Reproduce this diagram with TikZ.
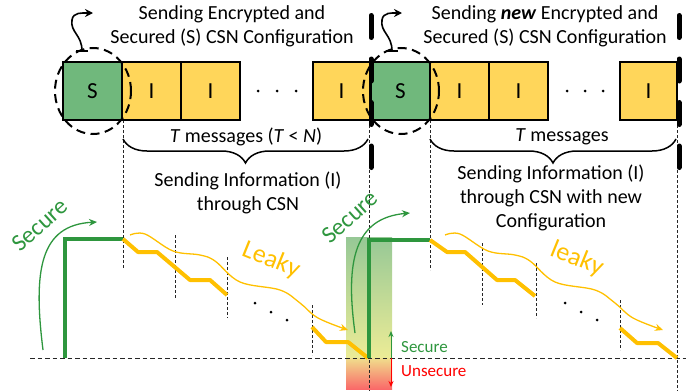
\documentclass[tikz,border=0pt]{standalone}
\usepackage{fontspec}
\setmainfont{Carlito}
\usetikzlibrary{arrows.meta,decorations.pathreplacing}
\definecolor{boxgreen}{RGB}{112,184,124}
\definecolor{boxyellow}{RGB}{255,214,90}
\definecolor{sgreen}{RGB}{46,150,62}
\definecolor{lyellow}{RGB}{255,192,0}
\definecolor{uired}{RGB}{255,0,0}
\definecolor{gtop}{RGB}{150,200,150}
\definecolor{gmid}{RGB}{236,236,150}
\definecolor{gmid2}{RGB}{240,222,140}
\definecolor{gbot}{RGB}{250,105,105}
\begin{document}
\begin{tikzpicture}[x=1pt,y=-1pt,
  box/.style={draw=black, line width=1.2pt, minimum height=58pt, inner sep=0pt, font=\fontsize{23}{26}\selectfont},
  txt/.style={font=\fontsize{20}{24}\selectfont, align=center, inner sep=0pt},
  thindash/.style={black!85, line width=0.8pt, dash pattern=on 3pt off 2pt},
  basedash/.style={black!85, line width=1pt, dash pattern=on 4.5pt off 3pt},
  bolddash/.style={line width=5pt, line cap=round, dash pattern=on 22pt off 21.5pt},
  ell/.style={draw, line width=2pt, dash pattern=on 9pt off 5.5pt},
  greenstep/.style={sgreen, line width=4pt},
  yellowstep/.style={lyellow, line width=4pt, line join=round},
  leakyarrow/.style={lyellow, line width=1.3pt, -{Stealth[length=8pt,width=7pt]}},
  securearrow/.style={sgreen, line width=1.3pt, -{Stealth[length=8pt,width=7pt]}},
  curlarrow/.style={line width=1.6pt, {Bar[width=12pt]}-{Stealth[length=8pt,width=8pt]}},
  bracestyle/.style={line width=1.5pt, decorate, decoration={brace, mirror, amplitude=24pt}},
  dotmark/.style={fill=black}
]
\useasboundingbox (0,0) rectangle (686,391);

% gradient band
\shade[top color=gtop, bottom color=gmid] (346,237) rectangle (392,358);
\shade[top color=gmid2, bottom color=gbot] (346,358) rectangle (392,389);

% dashed guide lines
\draw[basedash] (30,358) -- (686,358);
\draw[thindash] (123,120) -- (123,268);
\draw[thindash] (175,235) -- (175,298);
\draw[thindash] (227,257) -- (227,318);
\draw[thindash] (312,305) -- (312,355);
\draw[thindash] (369,120) -- (369,391);
\draw[thindash] (430,120) -- (430,270);
\draw[thindash] (482,243) -- (482,305);
\draw[thindash] (536,263) -- (536,318);
\draw[thindash] (620,300) -- (620,350);
\draw[thindash] (677,120) -- (677,391);

% boxes, first configuration
\node[box, fill=boxgreen, minimum width=59pt] (s1) at (92.5,91) {S};
\node[box, fill=boxyellow, minimum width=59pt] (i1a) at (151.5,91) {I};
\node[box, fill=boxyellow, minimum width=59pt] (i1b) at (210.5,91) {I};
\node[box, fill=boxyellow, minimum width=57pt] (i1c) at (341.5,91) {I};
\fill[dotmark] (258,91) circle (1.5pt) (277,91) circle (1.5pt) (296,91) circle (1.5pt);

% boxes, second configuration
\node[box, fill=boxgreen, minimum width=59pt] (s2) at (400.5,91) {S};
\node[box, fill=boxyellow, minimum width=59pt] (i2a) at (459.5,91) {I};
\node[box, fill=boxyellow, minimum width=59pt] (i2b) at (518.5,91) {I};
\node[box, fill=boxyellow, minimum width=57pt] (i2c) at (648.5,91) {I};
\fill[dotmark] (567,91) circle (1.5pt) (585,91) circle (1.5pt) (603,91) circle (1.5pt);

% dashed ellipses and curled arrows
\draw[ell] (93,91) ellipse [x radius=38pt, y radius=43pt];
\draw[ell] (401,91) ellipse [x radius=38pt, y radius=43pt];
\draw[curlarrow] (82,52) .. controls (82,35) and (70,32) .. (72,20) .. controls (73,12) and (82,13) .. (93,13);
\draw[curlarrow] (392,52) .. controls (392,35) and (380,32) .. (382,20) .. controls (383,12) and (392,13) .. (402,13);

% bold separators
\draw[bolddash] (371,15.5) -- (371,167.5);
\draw[bolddash] (679,15.5) -- (679,167.5);

% headings
\node[txt] (h1) at (232,26) {Sending Encrypted and\\Secured (S) CSN Configuration};
\node[txt] (h2) at (545,26) {Sending \textbf{\textit{new}} Encrypted and\\Secured (S) CSN Configuration};

% braces
\draw[bracestyle] (123,139) -- (368,139);
\draw[bracestyle] (430,139) -- (676,139);
\node[txt] (t1) at (246,137) {\textit{T} messages (\textit{T} < \textit{N})};
\node[txt] (t2) at (562,137) {\textit{T} messages};
\node[txt] (inf1) at (248,193) {Sending Information (I)\\through CSN};
\node[txt] (inf2) at (551,198) {Sending Information (I)\\through CSN with new\\Configuration};

% signal levels
\draw[greenstep] (65,358) -- (65,239) -- (123,239);
\draw[yellowstep] (123,239) -- (138,252) -- (157,252) -- (190,280) -- (210,280) -- (227,295);
\draw[yellowstep] (312,327) -- (326,342) -- (348,342) -- (368,358);
\draw[greenstep] (369,358) -- (369,240) -- (430,240);
\draw[yellowstep] (430,240) -- (447,252) -- (465,252) -- (497,280) -- (515,280) -- (535,296);
\draw[yellowstep] (620,328) -- (637,343) -- (658,343) -- (677,358);
\fill[dotmark] (255,303) circle (1.5pt) (271,312) circle (1.5pt) (287,320) circle (1.5pt);
\fill[dotmark] (565,303) circle (1.5pt) (581,312) circle (1.5pt) (597,320) circle (1.5pt);

% leaky arrows
\draw[leakyarrow] plot[smooth, tension=0.6] coordinates {(130,235) (145,234) (173,251) (200,255) (215,261) (240,282) (280,290) (300,303) (318,318) (348,330)};
\draw[leakyarrow] plot[smooth, tension=0.6] coordinates {(445,235) (460,234) (488,251) (515,255) (530,261) (555,282) (595,290) (615,303) (633,318) (663,330)};
\node[txt, text=lyellow, rotate=-22, font=\fontsize{26}{30}\selectfont] (lk1) at (271,260) {Leaky};
\node[txt, text=lyellow, rotate=-22, font=\fontsize{26}{30}\selectfont] (lk2) at (577,259) {leaky};

% secure arrows
\draw[securearrow] (43,350) .. controls (33,270) and (40,225) .. (97,222);
\draw[securearrow] (355,333) .. controls (345,260) and (355,218) .. (410,213);
\node[txt, text=sgreen, rotate=42, font=\fontsize{24}{28}\selectfont] (sc1) at (40,225) {Secure};
\node[txt, text=sgreen, rotate=42, font=\fontsize{24}{28}\selectfont] (sc2) at (350,217) {Secure};

% secure / unsecure scale
\coordinate (mid) at (391,358);
\coordinate (up) at (391,331);
\coordinate (down) at (391,387);
\draw[sgreen, line width=1pt, -{Stealth[length=6pt,width=5pt]}] (mid) -- (up);
\draw[uired, line width=1pt, -{Stealth[length=6pt,width=5pt]}] (mid) -- (down);
\node[txt, text=sgreen, anchor=west, font=\fontsize{17}{20}\selectfont] (lsec) at (401,347) {Secure};
\node[txt, text=uired, anchor=west, font=\fontsize{17}{20}\selectfont] (lunsec) at (401,371) {Unsecure};
\end{tikzpicture}
\end{document}
